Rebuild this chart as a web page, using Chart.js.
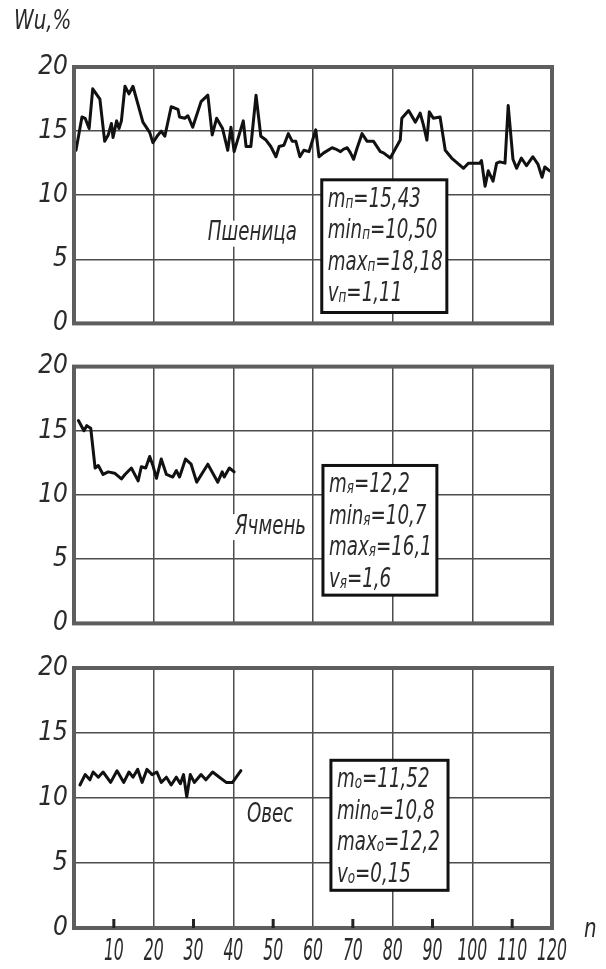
<!DOCTYPE html>
<html>
<head>
<meta charset="utf-8">
<script src="https://cdn.jsdelivr.net/npm/chart.js@4.4.1/dist/chart.umd.min.js"></script>
<style>
  html, body { margin: 0; padding: 0; background: #fff; }
  body { width: 606px; height: 969px; position: relative; overflow: hidden; }
  canvas { position: absolute; left: 0; }
</style>
</head>
<body>
<canvas id="c1" style="top:0" width="606" height="345"></canvas>
<canvas id="c2" style="top:345px" width="606" height="300"></canvas>
<canvas id="c3" style="top:645px" width="606" height="324"></canvas>
<script>
// Пшеница (wheat): sample number n and moisture Wu, %
const nWheat = [0.5, 2, 2.8, 3.8, 4.7, 6.5, 7.7, 8.6, 9.4, 9.8, 10.7, 11.3, 11.9, 12.8, 13.8, 14.8, 17.3, 19, 19.8, 21.1,
  21.9, 22.8, 24.4, 26.1, 26.5, 27.8, 28.6, 29.8, 31.9, 33.6, 34.7, 35.8, 37.3, 38.6, 39.4, 40.2, 42.5, 43.2, 44.4, 45.7,
  46.9, 48.2, 49.4, 50.7, 51.5, 52.7, 53.8, 54.8, 55.7, 56.7, 57.7, 59, 60.7, 61.5, 62.7, 64.8, 65.7, 66.9, 67.7, 68.6,
  69.4, 70.2, 71.1, 72.3, 73.6, 75.2, 76.9, 77.7, 79.4, 81.9, 82.3, 84, 85.7, 86.9, 87.7, 88.6, 89.2, 90.2, 91.9, 93.2,
  94.8, 97.8, 99, 101.9, 102.3, 103.2, 104, 105.2, 106.1, 106.9, 108.2, 109, 110.2, 111.1, 112.3, 113.6, 115.2, 116.5, 117.5, 118.2,
  119.4];
const wWheat = [13.5, 16.1, 16.0, 15.2, 18.3, 17.5, 14.2, 14.7, 15.6, 14.5, 15.8, 15.2, 15.8, 18.5, 17.9, 18.5, 15.7, 14.9, 14.1, 14.7,
  15.0, 14.6, 16.9, 16.7, 16.1, 16.0, 16.2, 15.3, 17.3, 17.8, 14.7, 16.0, 15.2, 13.5, 15.3, 13.4, 15.8, 13.8, 13.8, 17.8,
  14.6, 14.3, 13.8, 13.0, 13.8, 13.9, 14.8, 14.2, 14.2, 13.0, 13.5, 13.4, 15.1, 13.0, 13.3, 13.7, 13.6, 13.4, 13.6, 13.7,
  13.3, 12.8, 13.7, 14.8, 14.2, 14.2, 13.4, 13.3, 12.9, 14.3, 16.0, 16.6, 15.7, 16.4, 15.5, 14.3, 16.5, 16.0, 16.1, 13.5,
  12.9, 12.1, 12.5, 12.5, 12.7, 10.7, 11.9, 11.1, 12.5, 12.6, 12.5, 17.0, 12.8, 12.1, 12.9, 12.3, 13.0, 12.4, 11.4, 12.2,
  11.9];

// Ячмень (barley)
const nBarley = [1.1, 2.5, 3.2, 4.2, 5.3, 6.1, 7.3, 8.6, 10.2, 11.9, 12.8, 14.4, 16.1, 16.9, 18, 19, 19.8, 20.7, 21.9, 23.2,
  24.8, 25.7, 26.5, 28, 29.4, 30.8, 33.6, 36.1, 37.2, 37.7, 39, 40.2];
const wBarley = [15.8, 15.0, 15.4, 15.2, 12.1, 12.3, 11.6, 11.8, 11.7, 11.25, 11.6, 12.1, 11.1, 12.2, 12.1, 13.0, 12.3, 11.3, 12.8, 11.6,
  11.4, 11.9, 11.4, 12.8, 12.4, 11.0, 12.4, 11.0, 11.8, 11.4, 12.1, 11.8];

// Овес (oats)
const nOats = [1.5, 2.8, 4, 4.8, 6.1, 7.3, 9.2, 10.8, 12.5, 13.8, 14.8, 16, 17.1, 18.3, 19.6, 20.8, 21.9, 23.2, 24.4, 25.7,
  26.7, 27.5, 28.3, 29.2, 30.2, 31.9, 33.1, 34.8, 36.5, 38.2, 39.8, 41.9];
const wOats = [11.0, 11.8, 11.4, 12.0, 11.6, 12.0, 11.2, 12.1, 11.2, 12.0, 11.6, 12.2, 11.2, 12.2, 11.8, 12.0, 11.2, 11.6, 11.0, 11.6,
  11.1, 11.8, 10.1, 11.8, 11.2, 11.8, 11.4, 12.0, 11.6, 11.2, 11.2, 12.1];

// axes
const nMin = 0, nMax = 120, nStep = 10;
const wMin = 0, wMax = 20, wStep = 5;
const minorTicks = [10, 30, 50, 70, 90, 110];

// statistics boxes: [symbol, index, value]
const statsWheat = [["m", "п", "=15,43"], ["min", "п", "=10,50"], ["max", "п", "=18,18"], ["v", "п", "=1,11"]];
const statsBarley = [["m", "я", "=12,2"], ["min", "я", "=10,7"], ["max", "я", "=16,1"], ["v", "я", "=1,6"]];
const statsOats = [["m", "о", "=11,52"], ["min", "о", "=10,8"], ["max", "о", "=12,2"], ["v", "о", "=0,15"]];

const FONT = '"DejaVu Sans Condensed", "Liberation Sans", sans-serif';
const INK = '#2a2a2a';
const GRID = '#4d4d4d';
const SX = 0.78; // narrow drafting lettering

// draw text squeezed horizontally, returns drawn width
function narrowText(ctx, text, x, y, sx) {
  ctx.save();
  ctx.translate(x, y);
  ctx.scale(sx, 1);
  ctx.fillText(text, 0, 0);
  ctx.restore();
  return ctx.measureText(text).width * sx;
}

function notesPlugin(note) {
  return {
    id: 'notes',
    afterDraw(chart) {
      const ctx = chart.ctx, ca = chart.chartArea;
      const xs = chart.scales.x, ys = chart.scales.y;
      ctx.save();

      // crop name with white backing
      ctx.font = 'italic 26px ' + FONT;
      ctx.textBaseline = 'middle';
      ctx.textAlign = 'left';
      const nx = xs.getPixelForValue(note.nameAt[0]);
      const ny = ys.getPixelForValue(note.nameAt[1]);
      const tw = ctx.measureText(note.name).width * SX;
      ctx.fillStyle = '#fff';
      ctx.fillRect(nx - 2, ny - 13, tw + 4, 26);
      ctx.fillStyle = INK;
      narrowText(ctx, note.name, nx, ny, SX);

      // stats box
      const l = xs.getPixelForValue(note.box[0]), r = xs.getPixelForValue(note.box[1]);
      const t = ys.getPixelForValue(note.box[2]), b = ys.getPixelForValue(note.box[3]);
      ctx.fillStyle = '#fff';
      ctx.fillRect(l, t, r - l, b - t);
      ctx.strokeStyle = '#111';
      ctx.lineWidth = 3;
      ctx.strokeRect(l, t, r - l, b - t);
      ctx.fillStyle = INK;
      ctx.textBaseline = 'alphabetic';
      note.stats.forEach((row, i) => {
        let x = l + 6;
        const y = t + 27 + i * 31.5;
        ctx.font = 'italic 26px ' + FONT;
        x += narrowText(ctx, row[0], x, y, SX);
        ctx.font = 'italic 17px ' + FONT;
        x += narrowText(ctx, row[1], x, y + 1, SX);
        ctx.font = 'italic 26px ' + FONT;
        narrowText(ctx, row[2], x, y, SX);
      });

      // frame
      ctx.strokeStyle = '#5e5e5e';
      ctx.lineWidth = 4;
      ctx.strokeRect(ca.left, ca.top, ca.width, ca.height);

      if (note.minor) {
        ctx.strokeStyle = '#222';
        ctx.lineWidth = 3;
        minorTicks.forEach(v => {
          const px = xs.getPixelForValue(v);
          ctx.beginPath();
          ctx.moveTo(px, ca.bottom);
          ctx.lineTo(px, ca.bottom - 9);
          ctx.stroke();
        });
        // n tick labels, narrow lettering like the drawing
        ctx.font = 'italic 30px ' + FONT;
        ctx.textBaseline = 'middle';
        xs.ticks.forEach(tk => {
          if (tk.value === 0) return;
          const s = String(tk.value);
          const w = ctx.measureText(s).width * 0.58;
          narrowText(ctx, s, xs.getPixelForValue(tk.value) - w / 2, ca.bottom + 24, 0.58);
        });
      }

      ctx.font = 'italic 26px ' + FONT;
      ctx.fillStyle = INK;
      ctx.textBaseline = 'middle';
      if (note.yTitle) narrowText(ctx, note.yTitle, 14, 22, 0.85);
      if (note.xTitle) narrowText(ctx, note.xTitle, ca.right + 32, ca.bottom + 2, 0.85);
      ctx.restore();
    }
  };
}

function buildChart(id, n, w, pad, showX, note) {
  return new Chart(document.getElementById(id), {
    type: 'line',
    data: {
      datasets: [{
        data: n.map((x, i) => ({ x: x, y: w[i] })),
        borderColor: '#111',
        borderWidth: 3,
        pointRadius: 0,
        tension: 0,
        borderJoinStyle: 'round',
        borderCapStyle: 'round'
      }]
    },
    options: {
      responsive: false,
      animation: false,
      events: [],
      layout: { padding: pad },
      plugins: { legend: { display: false }, tooltip: { enabled: false } },
      scales: {
        x: {
          type: 'linear', min: nMin, max: nMax,
          afterFit: s => { s.height = showX ? 41 : 0; },
          ticks: { display: false, stepSize: nStep, autoSkip: false },
          grid: {
            drawTicks: false, lineWidth: 1.5,
            color: c => (c.tick && c.tick.value % 20 === 0 ? GRID : 'rgba(0,0,0,0)')
          },
          border: { display: false }
        },
        y: {
          min: wMin, max: wMax,
          afterFit: s => { s.width = 74; },
          ticks: {
            stepSize: wStep, padding: 6, color: INK,
            font: { family: FONT, size: 26, style: 'italic' }
          },
          grid: { drawTicks: false, lineWidth: 1.5, color: GRID },
          border: { display: false }
        }
      }
    },
    plugins: [notesPlugin(note)]
  });
}

buildChart('c1', nWheat, wWheat, { top: 67, right: 54, bottom: 20, left: 0 }, false, {
  name: 'Пшеница', nameAt: [33.6, 7.0], box: [62.2, 93.6, 11.2, 0.85], stats: statsWheat, yTitle: 'Wu,%'
});
buildChart('c2', nBarley, wBarley, { top: 21, right: 54, bottom: 20, left: 0 }, false, {
  name: 'Ячмень', nameAt: [40.4, 7.5], box: [62.5, 91.1, 12.3, 2.2], stats: statsBarley
});
buildChart('c3', nOats, wOats, { top: 23, right: 54, bottom: 0, left: 0 }, true, {
  name: 'Овес', nameAt: [43.4, 8.7], box: [64.5, 93.9, 12.9, 2.9], stats: statsOats, minor: true, xTitle: 'n'
});
</script>
</body>
</html>
